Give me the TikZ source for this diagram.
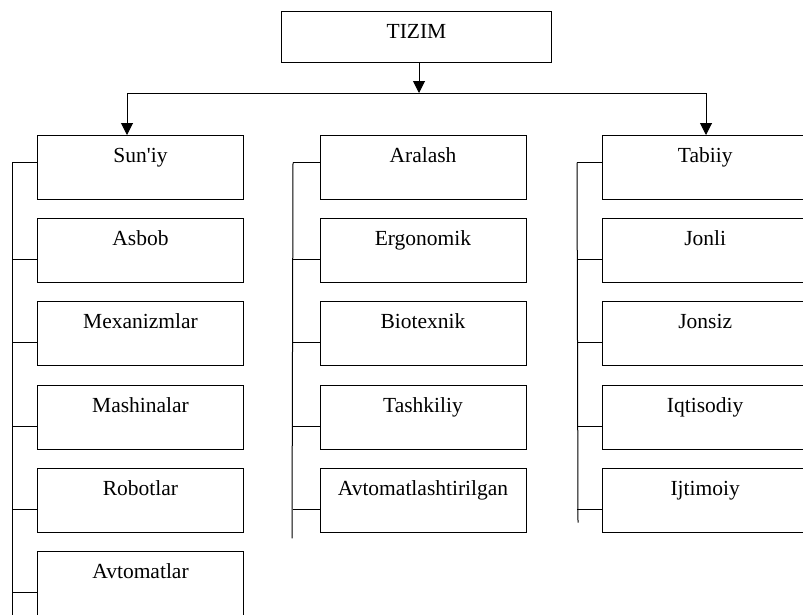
\documentclass[tikz,border=0pt]{standalone}
\usepackage{fontspec}
\setmainfont{Liberation Serif}
\usetikzlibrary{arrows.meta}
\tikzset{
  cell/.style={draw,line width=1pt,anchor=north west,minimum width=206pt,
    inner xsep=0pt,inner ysep=0pt,text height=27pt,text depth=37pt,
    font=\fontsize{21.5}{24}\selectfont},
  link/.style={line width=1pt},
  down/.style={link,-{Triangle[width=12pt,length=12pt]}}
}
\begin{document}
\begin{tikzpicture}[x=1pt,y=-1pt]
    \useasboundingbox (0,0) rectangle (803,614);
    %% Top
    \node[cell,minimum width=270pt,text depth=24pt] (tizim) at (281,11) {TIZIM};
    \coordinate (lf) at (127,93);
    \coordinate (rf) at (706,93);
    %% Columns
    \foreach \lab [count=\i from 0] in {Sun\textquotesingle iy,Asbob,Mexanizmlar,Mashinalar,Robotlar,Avtomatlar} {
        \node[cell] (s\i) at (37,135+83.2*\i) {\lab};
    }
    \foreach \lab [count=\i from 0] in {Aralash,Ergonomik,Biotexnik,Tashkiliy,Avtomatlashtirilgan} {
        \node[cell] (a\i) at (319.5,135+83.2*\i) {\lab};
    }
    \foreach \lab [count=\i from 0] in {Tabiiy,Jonli,Jonsiz,Iqtisodiy,Ijtimoiy} {
        \node[cell] (t\i) at (601.7,135+83.2*\i) {\lab};
    }
    %% Arrows
    \draw[down] (tizim.south -| 419,0) -- (419,93);
    \draw[link] (lf) -- (rf);
    \draw[down] (lf) -- (lf |- s0.north);
    \draw[down] (rf) -- (rf |- t0.north);
    %% Side lines
    \coordinate (L0) at (12,162.7);   \coordinate (L1) at (12,620);
    \coordinate (M0) at (293,162.7);  \coordinate (M1) at (292,538.3);
    \coordinate (R0) at (577,162.7);  \coordinate (R1) at (578,522.7);
    \draw[link] (L0) -- (L1);
    \draw[link] (M0) -- (M1);
    \draw[link] (R0) -- (R1);
    \draw[link] (L0) -- (L0 -| s0.west);
    \draw[link] (M0) -- (M0 -| a0.west);
    \draw[link] (R0) -- (R0 -| t0.west);
    \foreach \i in {1,...,5}
        \draw[link] ([yshift=-9pt]s\i.west) coordinate (sj) -- (sj -| L0);
    \foreach \i in {1,...,4} {
        \draw[link] ([yshift=-9pt]a\i.west) coordinate (aj) -- (aj -| M0);
        \draw[link] ([yshift=-9pt]t\i.west) coordinate (tj) -- (tj -| R0);
    }
\end{tikzpicture}
\end{document}
